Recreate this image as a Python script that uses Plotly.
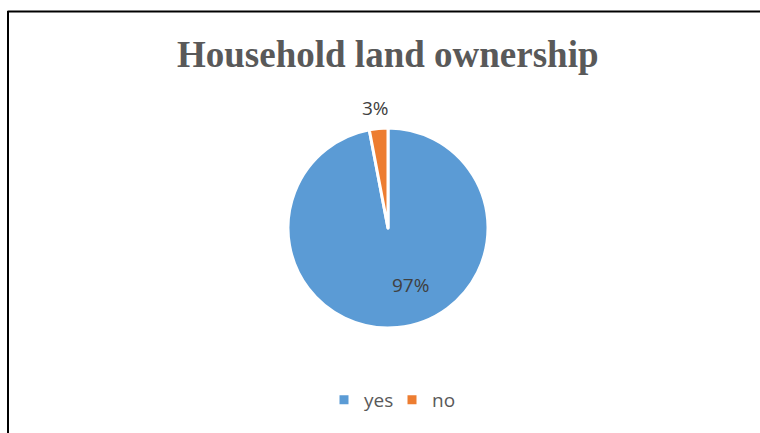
import plotly.graph_objects as go

labels = ["yes", "no"]
values = [97, 3]
colors = ["#5B9BD5", "#ED7D31"]

W, H = 760, 433
cx, cy, r = 388, 228, 100  # pie centre and radius in pixels

fig = go.Figure(go.Pie(
    labels=labels,
    values=values,
    marker=dict(colors=colors, line=dict(color="white", width=3)),
    sort=False,
    direction="clockwise",
    rotation=0,
    textinfo="none",
    hoverinfo="label+percent",
    domain=dict(x=[(cx - r) / W, (cx + r) / W], y=[1 - (cy + r) / H, 1 - (cy - r) / H]),
))

total = sum(values)
pcts = [f"{round(v / total * 100)}%" for v in values]
label_pos = [(410, 285), (375, 108)]
for txt, (px, py) in zip(pcts, label_pos):
    fig.add_annotation(x=px / W, y=1 - py / H, xref="paper", yref="paper",
                       xanchor="center", yanchor="middle",
                       text=txt, showarrow=False,
                       font=dict(family="Open Sans", size=19, color="#404040"))

fig.add_annotation(x=388 / W, y=1 - 55 / H, xref="paper", yref="paper",
                   xanchor="center", yanchor="middle",
                   text="<b>Household land ownership</b>", showarrow=False,
                   font=dict(family="Liberation Serif", size=37, color="#595959"))

# frame lines (top and left)
fig.add_shape(type="line", xref="paper", yref="paper",
              x0=7.5 / W, x1=1, y0=1 - 11.5 / H, y1=1 - 11.5 / H,
              line=dict(color="black", width=2))
fig.add_shape(type="line", xref="paper", yref="paper",
              x0=8 / W, x1=8 / W, y0=0, y1=1 - 11 / H,
              line=dict(color="black", width=2))

fig.update_layout(
    width=W, height=H,
    margin=dict(l=0, r=0, t=0, b=0),
    paper_bgcolor="white",
    plot_bgcolor="white",
    showlegend=True,
    legend=dict(orientation="h", x=392 / W, xanchor="center", y=1 - 400 / H, yanchor="middle",
                font=dict(family="Open Sans", size=19, color="#595959"),
                itemwidth=30, entrywidth=23, entrywidthmode="pixels",
                traceorder="normal"),
)

fig.write_html("out.html")
